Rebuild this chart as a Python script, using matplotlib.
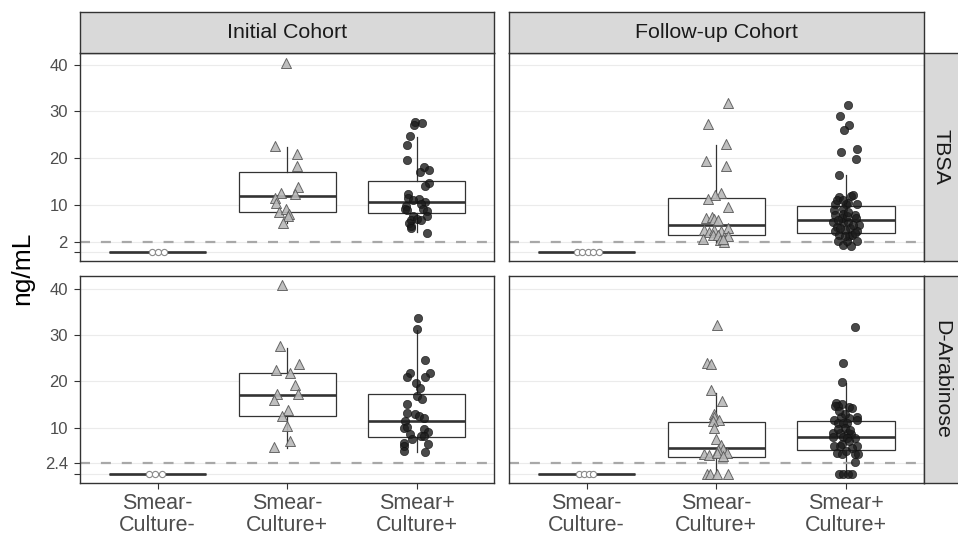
import matplotlib
matplotlib.use("Agg")
import matplotlib.pyplot as plt
import numpy as np

plt.rcParams['font.family'] = ['Liberation Sans', 'DejaVu Sans']

# ---------------- data ----------------
cohorts = ["Initial Cohort", "Follow-up Cohort"]
assays = ["TBSA", "D-Arabinose"]
groups = ["Smear-\nCulture-", "Smear-\nCulture+", "Smear+\nCulture+"]
lod = [2.0, 2.4]
ytick_vals = [[0, 2, 10, 20, 30, 40], [0, 2.4, 10, 20, 30, 40]]
ytick_labels = [["", "2", "10", "20", "30", "40"], ["", "2.4", "10", "20", "30", "40"]]
y_label = "ng/mL"

# box stats per group: (whislo, q1, median, q3, whishi)
tbsa_init_box = [[0, 0, 0, 0, 0], [6.2, 8.5, 11.9, 17.0, 22.4], [4.3, 8.3, 10.6, 15.2, 24.6]]
tbsa_follow_box = [[0, 0, 0, 0, 0], [2.1, 3.5, 5.7, 11.6, 22.8], [1.3, 4.1, 6.8, 9.9, 16.5]]
dara_init_box = [[0, 0, 0, 0, 0], [5.6, 12.6, 17.0, 21.85, 27.3], [4.8, 8.0, 11.4, 17.26, 31.1]]
dara_follow_box = [[0, 0, 0, 0, 0], [0, 3.75, 5.5, 11.2, 17.5], [0, 5.1, 8.05, 11.45, 19.7]]

# Smear-Culture- (all below detection, plotted at 0): jitter offsets
tbsa_init_neg_jit = [-0.041, 0.005, 0.051]
tbsa_follow_neg_jit = [-0.074, -0.032, 0.011, 0.053, 0.096]
dara_init_neg_jit = [-0.066, -0.02, 0.032]
dara_follow_neg_jit = [-0.059, -0.02, 0.021, 0.052]

# Smear-Culture+ (triangles)
tbsa_init_scp = [40.4, 22.6, 20.9, 18.4, 13.8, 12.4, 12.5, 11.6, 10.4, 8.5, 9.1, 8.1, 7.6, 6.2]
tbsa_init_scp_jit = [-0.01, -0.09, 0.076, 0.073, 0.08, 0.063, -0.046, -0.097, -0.087, -0.066, -0.012, 0.016, 0.008, -0.03]
tbsa_follow_scp = [31.9, 27.4, 23.0, 19.5, 18.3, 12.5, 12.1, 11.3, 9.5, 7.15, 7.4, 7.1, 6.7, 4.6, 4.3,
                   4.6, 4.4, 5.1, 3.6, 3.5, 3.3, 2.7, 2.6, 2.1, 2.8]
tbsa_follow_scp_jit = [0.087, -0.065, 0.074, -0.078, 0.074, 0.035, -0.011, -0.062, 0.089, -0.08, -0.032,
                       -0.018, 0.015, -0.096, -0.055, -0.016, 0.035, 0.087, -0.024, 0.01, 0.092, -0.103,
                       0.025, 0.056, 0.049]
dara_init_scp = [40.8, 27.7, 23.7, 22.4, 21.9, 19.3, 17.3, 17.3, 16.0, 13.9, 12.5, 10.4, 7.2, 5.7]
dara_init_scp_jit = [-0.042, -0.053, 0.093, -0.089, 0.019, 0.06, -0.081, 0.083, -0.1, 0.006, -0.04,
                     -0.004, 0.019, -0.102]
dara_follow_scp = [32.1, 24.0, 23.7, 18.1, 15.8, 12.9, 12.3, 11.6, 11.4, 9.9, 7.5, 6.3, 5.4, 5.2, 4.5,
                   4.3, 4.0, 4.6, 3.9, 0, 0, 0, 0]
dara_follow_scp_jit = [0.005, -0.07, -0.039, -0.042, 0.045, -0.021, -0.021, 0.022, -0.029, -0.018,
                       -0.005, 0.035, 0.051, 0.01, 0.082, -0.093, -0.055, 0.005, 0.051, -0.075,
                       -0.049, 0.002, 0.089]

# Smear+Culture+ (dark circles)
tbsa_init_spp = [27.8, 27.6, 27.1, 24.7, 22.8, 19.6, 18.1, 17.5, 17.1, 14.7, 14.1, 12.3, 11.6, 11.3,
                 11.0, 10.6, 10.3, 9.85, 9.2, 9.15, 8.9, 8.7, 7.6, 7.7, 6.9, 7.1, 6.7, 5.6, 6.1, 5.2, 4.0]
tbsa_init_spp_jit = [-0.011, 0.039, -0.021, -0.054, -0.073, -0.073, 0.054, 0.097, 0.028, 0.095, 0.064,
                     -0.067, -0.067, 0.015, -0.031, 0.066, 0.033, -0.083, -0.093, 0.046, -0.073, 0.077,
                     -0.026, 0.077, -0.042, 0.002, 0.036, -0.046, -0.062, -0.044, 0.077]
tbsa_follow_spp = [31.4, 29.1, 27.1, 26.0, 21.4, 21.9, 19.9, 16.4, 11.8, 12.0, 12.2, 10.3, 10.2, 10.4,
                   10.3, 9.0, 9.1, 7.8, 8.1, 7.9, 7.2, 6.4, 6.3, 6.4, 5.4, 5.2, 5.8, 4.4, 4.6, 4.4,
                   3.5, 3.3, 3.7, 2.4, 2.4, 1.55, 1.3, 2.3, 7.2, 5.8, 6.9, 7.6, 11.1, 11.1, 8.6,
                   5.1, 4.0, 3.3]
tbsa_follow_spp_jit = [0.014, -0.048, 0.022, -0.015, -0.04, 0.086, 0.078, -0.053, -0.053, 0.039, 0.05,
                       -0.086, 0.001, 0.016, 0.081, -0.094, -0.027, -0.084, -0.022, 0.068, 0.076,
                       -0.099, -0.022, 0.016, -0.069, 0.029, 0.096, -0.084, -0.007, 0.086, -0.053,
                       0.019, 0.042, -0.061, 0.086, -0.027, 0.037, 0.004, -0.035, 0.055, -0.061,
                       0.004, -0.073, -0.022, 0.012, -0.048, 0.068, -0.009]
dara_init_spp = [33.7, 31.3, 24.6, 21.8, 21.7, 20.9, 20.9, 19.6, 18.5, 16.8, 16.2, 15.0, 13.0, 13.1,
                 12.5, 12.0, 11.4, 10.0, 10.2, 9.8, 9.1, 8.6, 8.2, 8.1, 7.6, 6.6, 6.1, 6.4, 5.0, 4.8]
dara_init_spp_jit = [0.012, 0.005, 0.064, 0.1, -0.049, -0.077, 0.066, -0.003, 0.028, 0.002, 0.043,
                     -0.073, -0.015, -0.075, 0.02, 0.054, -0.093, -0.098, -0.077, 0.059, 0.09, -0.052,
                     0.031, 0.056, -0.034, -0.096, -0.098, 0.087, -0.096, 0.066]
dara_follow_spp = [31.8, 23.9, 19.8, 15.4, 15.2, 14.7, 14.6, 14.4, 14.2, 12.3, 12.1, 12.2, 11.7, 11.7,
                   11.0, 11.1, 11.0, 8.9, 8.8, 8.9, 8.7, 8.0, 7.8, 7.7, 7.9, 6.5, 6.1, 6.0, 6.0, 4.6,
                   4.4, 4.4, 4.4, 2.5, 0, 0, 0, 0, 10.0, 9.5, 13.0, 7.2, 5.5, 5.0, 13.5, 9.8]
dara_follow_spp_jit = [0.07, -0.022, -0.032, -0.079, -0.035, -0.066, -0.086, 0.024, 0.042, -0.04,
                       0.024, 0.081, 0.086, -0.092, -0.061, -0.022, 0.004, -0.099, -0.048, 0.016,
                       0.037, -0.022, 0.008, 0.068, -0.099, -0.035, -0.048, 0.081, -0.092, -0.073,
                       -0.035, 0.068, 0.089, 0.07, -0.053, -0.022, 0.012, 0.042, -0.01, 0.03, -0.01,
                       0.02, 0.045, 0.0, -0.055, -0.06]

panels = {
    (0, 0): (tbsa_init_box, tbsa_init_neg_jit, tbsa_init_scp, tbsa_init_scp_jit, tbsa_init_spp, tbsa_init_spp_jit),
    (0, 1): (tbsa_follow_box, tbsa_follow_neg_jit, tbsa_follow_scp, tbsa_follow_scp_jit, tbsa_follow_spp, tbsa_follow_spp_jit),
    (1, 0): (dara_init_box, dara_init_neg_jit, dara_init_scp, dara_init_scp_jit, dara_init_spp, dara_init_spp_jit),
    (1, 1): (dara_follow_box, dara_follow_neg_jit, dara_follow_scp, dara_follow_scp_jit, dara_follow_spp, dara_follow_spp_jit),
}

# ---------------- layout ----------------
W, H = 958, 536
fig = plt.figure(figsize=(W / 100, H / 100), dpi=100)
fig.patch.set_facecolor('white')

col_x = [(80, 494.3), (508.7, 924)]
row_y = [(53.3, 261.3), (275.7, 483.3)]
strip_top = 11.7
strip_right = 958.5

def frac_rect(x0, x1, y0, y1):
    return [x0 / W, 1 - y1 / H, (x1 - x0) / W, (y1 - y0) / H]

EDGE = '#333333'
TEXTC = '#4d4d4d'

for r in range(2):
    allv = []
    for c in range(2):
        p = panels[(r, c)]
        allv += list(p[2]) + list(p[4]) + [0]
    vmin, vmax = min(allv), max(allv)
    pad = 0.05 * (vmax - vmin)
    ylim = (vmin - pad, vmax + pad)
    for c in range(2):
        box, neg_jit, scp, scp_jit, spp, spp_jit = panels[(r, c)]
        ax = fig.add_axes(frac_rect(col_x[c][0], col_x[c][1], row_y[r][0], row_y[r][1]))
        ax.set_facecolor('white')
        ax.set_axisbelow(True)
        stats = [dict(whislo=b[0], q1=b[1], med=b[2], q3=b[3], whishi=b[4], fliers=[]) for b in box]
        ax.bxp(stats, positions=[1, 2, 3], widths=0.75, showfliers=False, showcaps=False,
               patch_artist=True,
               boxprops=dict(facecolor='white', edgecolor=EDGE, linewidth=0.9),
               medianprops=dict(color=EDGE, linewidth=1.9, solid_capstyle='butt'),
               whiskerprops=dict(color=EDGE, linewidth=0.9))
        ax.axhline(lod[r], color='#a8a8a8', lw=1.6, dashes=(4.5, 4.9), zorder=2.5)
        ax.scatter(1 + np.array(neg_jit), np.zeros(len(neg_jit)), s=20, marker='o',
                   facecolor='white', edgecolor='#8a8a8a', linewidths=0.8, zorder=3)
        ax.scatter(2 + np.array(scp_jit), scp, s=52, marker='^', facecolor='#b8b8b8',
                   edgecolor='#5a5a5a', linewidths=0.7, alpha=0.9, zorder=3)
        ax.scatter(3 + np.array(spp_jit), spp, s=36, marker='o', facecolor='#1c1c1c',
                   edgecolor='#111111', linewidths=0.5, alpha=0.8, zorder=3)
        ax.set_xlim(0.4, 3.6)
        ax.set_ylim(*ylim)
        ax.set_yticks(ytick_vals[r])
        ax.yaxis.grid(True, color='#ebebeb', lw=0.8)
        ax.xaxis.grid(False)
        for s in ax.spines.values():
            s.set_color(EDGE)
            s.set_linewidth(1.0)
        if c == 0:
            ax.set_yticklabels(ytick_labels[r])
            ax.tick_params(axis='y', length=4.3, width=0.8, color=EDGE, labelsize=12,
                           labelcolor=TEXTC, pad=4.5)
        else:
            ax.tick_params(axis='y', length=0, labelleft=False)
        ax.set_xticks([1, 2, 3])
        if r == 1:
            ax.set_xticklabels(groups)
            ax.tick_params(axis='x', length=4.3, width=0.8, color=EDGE, labelsize=15.5,
                           labelcolor=TEXTC, pad=2.5)
            for t in ax.get_xticklabels():
                t.set_linespacing(1.05)
        else:
            ax.tick_params(axis='x', length=0, labelbottom=False)

# top strips
for c in range(2):
    sax = fig.add_axes(frac_rect(col_x[c][0], col_x[c][1], strip_top, row_y[0][0]))
    sax.set_facecolor('#d9d9d9')
    sax.set_xticks([]); sax.set_yticks([])
    for s in sax.spines.values():
        s.set_color(EDGE); s.set_linewidth(1.0)
    sax.text(0.5, 0.5, cohorts[c], ha='center', va='center', fontsize=15.4, color='#1a1a1a',
             transform=sax.transAxes)

# right strips
for r in range(2):
    sax = fig.add_axes(frac_rect(col_x[1][1], strip_right, row_y[r][0], row_y[r][1]))
    sax.set_facecolor('#d9d9d9')
    sax.set_xticks([]); sax.set_yticks([])
    for s in sax.spines.values():
        s.set_color(EDGE); s.set_linewidth(1.0)
    sax.text(0.5, 0.5, assays[r], ha='center', va='center', fontsize=15.4, color='#1a1a1a',
             rotation=-90, transform=sax.transAxes)

fig.text(22 / W, 1 - 268 / H, y_label, rotation=90, ha='center', va='center', fontsize=19,
         color='black')

fig.savefig('out.png', dpi=100, facecolor='white')
